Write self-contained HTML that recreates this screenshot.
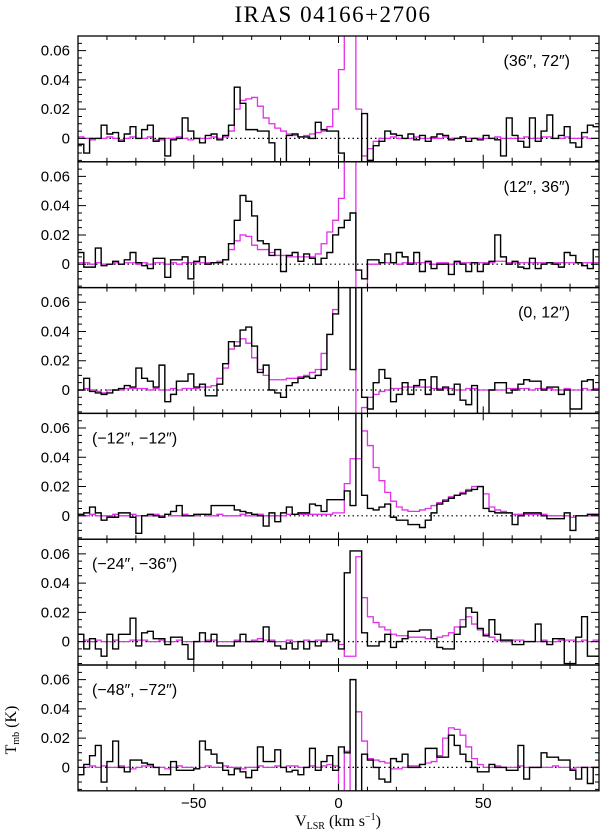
<!DOCTYPE html>
<html><head><meta charset="utf-8"><style>
body{margin:0;background:#fff}
svg text{font-family:"Liberation Sans",sans-serif}
</style></head><body>
<svg id="chart" width="600" height="832" viewBox="0 0 600 832" xmlns="http://www.w3.org/2000/svg">
<text x="333" y="22" text-anchor="middle" style="font-family:'Liberation Serif',serif;font-size:23px;letter-spacing:1.5px">IRAS 04166+2706</text>
<g id="panels"></g>
<text x="338" y="826" text-anchor="middle" style="font-family:'Liberation Serif',serif;font-size:16px">V<tspan font-size="10" dy="3">LSR</tspan><tspan dy="-3"> (km s</tspan><tspan font-size="10" dy="-6">−1</tspan><tspan dy="6">)</tspan></text>
<text transform="translate(16,730) rotate(-90)" text-anchor="middle" style="font-family:'Liberation Serif',serif;font-size:16px">T<tspan font-size="10" dy="3">mb</tspan><tspan dy="-3"> (K)</tspan></text>
</svg>
<script>
// Data in mK, 2 km/s channels starting at -90 km/s
const panelLabels = ["(36\u2033, 72\u2033)","(12\u2033, 36\u2033)","(0, 12\u2033)","(\u221212\u2033, \u221212\u2033)","(\u221224\u2033, \u221236\u2033)","(\u221248\u2033, \u221272\u2033)"];
const xTicks = [-50,0,50];
const xTickLabels = ["\u221250","0","50"];
const yTicks = [0,20,40,60];
const yTickLabels = ["0","0.02","0.04","0.06"];
const black1 = [-4,-10,0,0,9,3,4,-2,3,8, 0,6,9,-2,0,-12,-1,0,14,5, 0,-3,2,3,-1,2,9,35,24,6, 6,5,5,-3,-20,-20,2,3,1,1, 0,11,6,5,5,-10,-20,-25,-20,17, -15,-5,-2,5,3,2,0,3,-1,2, -2,1,3,2,-1,0,1,-2,0,-1, 2,0,-1,-12,14,2,-2,-6,14,-2, 5,16,0,2,8,-3,-6,4,9,8];
const mag1 = [1,0,-1,0,0,1,0,-1,0,1, 0,0,1,-1,-1,0,0,1,0,-1, 0,0,0,1,0,1,5,20,26,27, 28,22,14,10,7,5,3,2,1,2, 3,4,5,8,20,47,100,100,20,-12, -7,-2,0,0,1,0,0,0,1,0, 0,0,0,1,0,0,1,0,0,0, 0,0,1,0,0,0,0,1,0,0, 1,1,0,0,1,0,0,1,0,0];
const black2 = [8,-2,-2,11,-1,0,2,0,3,8, 1,-1,-3,4,4,-9,3,3,5,-10, 2,5,0,1,1,3,14,30,47,43, 33,16,14,6,10,-5,6,8,2,7, 4,0,4,8,20,25,30,35,-4,-10, 3,3,1,7,1,8,5,0,8,-5, 2,-3,0,0,-7,2,0,-5,1,-5, 0,2,20,5,0,2,-2,-3,4,-3, 0,1,0,-2,8,6,1,-1,-3,10];
const mag2 = [1,1,0,1,0,0,1,0,1,1, 0,1,0,1,1,0,1,0,1,1, 1,1,1,1,2,3,10,16,20,19, 13,10,10,8,6,6,5,5,5,5, 5,7,14,22,30,45,100,100,-30,-30, 0,0,1,1,1,0,1,1,1,1, 1,0,1,1,0,1,1,1,1,1, 1,1,2,2,1,1,1,1,1,1, 1,1,1,1,1,1,1,1,1,1];
const black3 = [0,8,-1,-2,-3,-2,0,1,3,2, 15,8,6,2,17,-8,-3,6,6,11, 2,4,-4,-4,4,18,33,30,41,43, 30,12,17,0,-2,-5,3,5,8,9, 8,10,14,38,52,75,100,14,100,-5, -13,5,14,8,-8,-3,5,-3,3,7, -3,9,0,2,-3,4,-7,-10,3,-25, -25,0,5,5,-2,0,4,7,6,6, 0,2,2,-3,0,-13,-13,6,7,0];
const mag3 = [0,1,0,-1,-2,0,0,0,1,1, 1,1,0,1,0,0,1,0,1,1, 1,2,2,3,8,15,28,33,35,32, 22,14,10,7,7,7,8,8,9,10, 12,14,25,38,55,100,100,100,-50,-12, -5,-3,-1,0,1,1,2,2,2,2, 2,1,1,1,1,0,0,1,1,0, 0,0,0,0,1,1,1,1,0,1, 1,1,0,0,1,0,0,1,0,1];
const black4 = [1,2,6,2,-3,-1,-1,2,2,-1, -12,0,1,0,-1,1,3,7,0,0, 1,1,1,7,7,7,7,4,3,2, 1,0,-7,2,-4,2,6,1,2,2, 8,7,3,11,11,11,17,7,100,14, 5,4,6,8,-1,-3,-3,-6,-6,-8, -3,2,8,10,12,14,15,17,18,20, 5,3,2,2,2,-6,0,2,2,2, 0,-2,-2,-2,2,-10,0,0,1,1];
const mag4 = [0,0,1,0,0,0,1,0,0,1, 0,0,0,1,0,1,0,0,1,0, 0,1,0,0,1,0,0,0,1,0, 0,1,0,0,0,0,1,1,1,1, 1,1,1,1,2,2,22,39,39,58, 48,33,24,16,10,6,4,3,3,4, 5,7,9,11,13,14,16,18,20,20, 15,6,4,3,2,1,1,1,1,1, 1,0,0,0,0,-1,0,0,0,0];
const black5 = [5,-5,2,-5,-10,5,-5,5,5,16, -3,6,7,2,2,-2,3,3,-2,-12, 0,6,0,5,-3,-3,-3,0,5,0, 0,0,10,0,-3,-5,-1,-5,0,-5, 0,-3,0,5,1,-5,47,62,62,6, -3,-3,0,5,-4,0,2,7,7,8, 8,2,-4,-5,-5,5,10,23,20,9, 4,15,5,1,1,-2,-2,0,0,12, 0,-2,2,2,-15,-15,3,17,-10,-10];
const mag5 = [0,1,0,1,0,0,1,0,0,1, 1,1,0,0,1,0,0,1,0,0, 0,0,1,1,0,0,0,1,0,0, 1,2,1,1,0,0,1,0,0,1, 0,1,1,0,1,-2,-10,-10,58,30, 17,13,10,8,5,4,4,3,3,3, 2,2,3,4,6,10,15,17,12,8, 5,3,1,0,0,1,1,0,0,0, 1,0,0,1,1,1,0,1,0,1];
const black6 = [-5,2,8,15,-10,4,18,0,-3,5, 5,3,2,0,-5,-5,4,-2,-2,-2, -1,18,12,9,3,-2,-5,-1,-3,-7, -2,14,4,4,12,0,-3,-2,-5,0, 13,-2,4,8,-2,14,10,60,-20,9, 5,0,-8,-10,6,4,9,0,0,2, 13,13,7,7,22,15,9,4,0,-3, -3,2,0,0,-2,-2,15,-8,0,0, 10,7,7,5,5,-2,-8,0,-11,0];
const mag6 = [0,0,1,0,1,0,0,1,0,-1, 0,1,1,0,0,-1,0,1,0,0, -1,0,1,0,0,1,0,0,-1,0, 0,1,0,0,1,0,1,1,0,0, 1,0,1,2,1,-40,11,-40,38,18, 6,5,4,3,-1,-1,0,1,1,2, 3,4,8,20,27,26,22,14,6,2, 0,0,1,0,0,0,1,0,0,0, 0,0,1,0,0,-1,0,0,0,0];
const blackSeries = [black1,black2,black3,black4,black5,black6];
const magSeries = [mag1,mag2,mag3,mag4,mag5,mag6];

const NS="http://www.w3.org/2000/svg";
const X0=78, X1=599, PT=36, PH=125.8;
const VMIN=-90, VMAX=90, CH=2, YMIN=-16, YMAX=70;
function xs(v){return X0+(v-VMIN)/(VMAX-VMIN)*(X1-X0);}
function ysf(top){return function(m){return top+PH-(m-YMIN)/(YMAX-YMIN)*PH;};}
function mk(tag,attrs,parent){const e=document.createElementNS(NS,tag);for(const k in attrs)e.setAttribute(k,attrs[k]);parent.appendChild(e);return e;}
function stepPath(arr,ys){let d="";for(let i=0;i<arr.length;i++){const xa=xs(VMIN+i*CH),xb=xs(VMIN+(i+1)*CH),y=ys(arr[i]).toFixed(2);d+=(i?"L":"M")+xa.toFixed(2)+","+y+"L"+xb.toFixed(2)+","+y;}return d;}
const root=document.getElementById("panels");
const defs=mk("defs",{},root);
for(let p=0;p<6;p++){
  const top=PT+p*PH, ys=ysf(top);
  const g=mk("g",{},root);
  
  
  const cp=mk("clipPath",{id:"cp"+p},defs);
  mk("rect",{x:X0,y:top,width:X1-X0,height:PH},cp);
  const zl=mk("line",{x1:X0,x2:X1,y1:ys(0),y2:ys(0),stroke:"#000","stroke-width":1.2,"stroke-dasharray":"1.5,3"},g);
  
  
  const cg=mk("g",{"clip-path":"url(#cp"+p+")"},g);
  const mp=mk("path",{d:stepPath(magSeries[p],ys),fill:"none",stroke:"#e030e8","stroke-width":1.3},cg);
  
  
  const bp=mk("path",{d:stepPath(blackSeries[p],ys),fill:"none",stroke:"#000","stroke-width":1.4},cg);
  
  
  const fr=mk("rect",{x:X0,y:top,width:X1-X0,height:PH,fill:"none",stroke:"#000","stroke-width":1.3},g);
  
  
  let d="";
  for(let v=-80;v<=80;v+=10){const x=xs(v),L=(v%50===0)?7:4;d+=`M${x},${top}v${L}M${x},${top+PH}v${-L}`;}
  for(let m=-15;m<=65;m+=5){const y=ys(m),L=(m%20===0)?8:4;d+=`M${X0},${y}h${L}M${X1},${y}h${-L}`;}
  const tk=mk("path",{d:d,stroke:"#000","stroke-width":1,fill:"none"},g);
  
  
  for(let i=0;i<yTicks.length;i++){
    const t=mk("text",{x:70,y:ys(yTicks[i])+5,"text-anchor":"end","font-size":15},g);
    
    
    t.textContent=yTickLabels[i];
  }
  const right=p<3;
  const lb=mk("text",{x:right?570:92,y:top+30,"text-anchor":right?"end":"start","font-size":16},g);
  
  
  lb.textContent=panelLabels[p];
}
for(let i=0;i<xTicks.length;i++){
  const t=mk("text",{x:xs(xTicks[i]),y:PT+6*PH+17,"text-anchor":"middle","font-size":15},root);
  
  
  t.textContent=xTickLabels[i];
}
</script>
</body></html>
